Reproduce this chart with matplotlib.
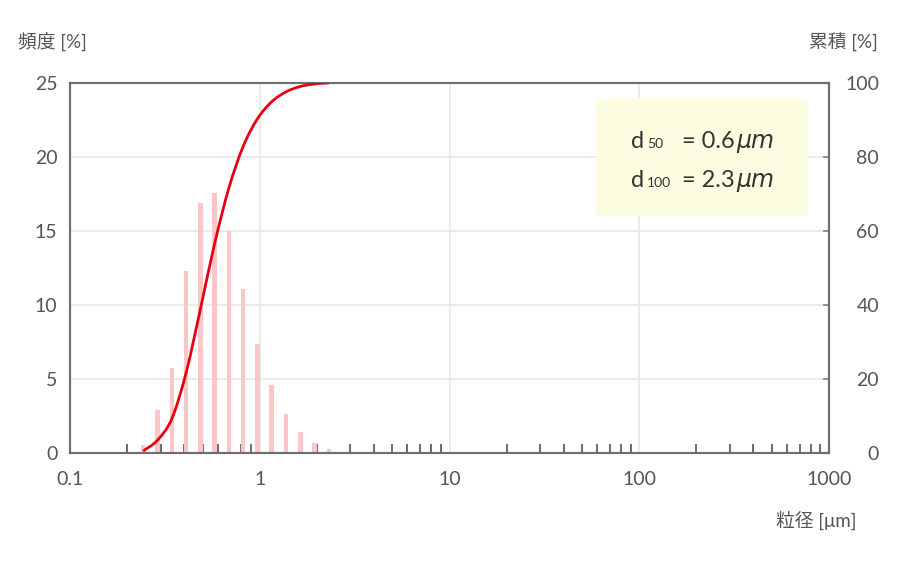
import numpy as np
import matplotlib
matplotlib.use("Agg")
from matplotlib import pyplot as plt
from matplotlib.path import Path
import matplotlib.patches as patches
from matplotlib.ticker import LogLocator, NullFormatter, FixedLocator, FixedFormatter

plt.rcParams['font.family'] = ['Lato', 'Noto Sans CJK JP', 'DejaVu Sans']

# particle size channels [um] and frequency [%]
sizes = [0.243, 0.289, 0.344, 0.409, 0.486, 0.578, 0.688,
         0.818, 0.972, 1.156, 1.375, 1.635, 1.944, 2.312]
freq = [0.52, 2.9, 5.74, 12.3, 16.9, 17.6, 15.0,
        11.1, 7.36, 4.57, 2.66, 1.44, 0.68, 0.25]

left_ticks = [0, 5, 10, 15, 20, 25]
right_ticks = [0, 20, 40, 60, 80, 100]
x_ticks = [0.1, 1, 10, 100, 1000]
x_ticklabels = ['0.1', '1', '10', '100', '1000']

d_lines = [('50', '= 0.6'), ('100', '= 2.3')]

W, H = 900, 562
TICK_C = '#555555'
SPINE_C = '#6e6e6e'
BAR_C = '#fbc6c6'
LINE_C = '#e60012'


def fx(px):
    return px / W


def fy(py):
    return 1 - py / H


fig = plt.figure(figsize=(9, 5.62), dpi=100)
ax = fig.add_axes([fx(70), fy(453), fx(829) - fx(70), fy(83) - fy(453)])
ax2 = ax.twinx()

ax.set_xscale('log')
ax2.set_xscale('log')
ax.set_xlim(0.1, 1000)
ax.set_ylim(0, 25)
ax2.set_ylim(0, 100)

# frequency bars, constant width in log space
x = np.array(sizes)
hw = 0.012
lefts = x * 10 ** (-hw)
widths = x * (10 ** hw - 10 ** (-hw))
ax.bar(lefts, freq, width=widths, align='edge', color=BAR_C, zorder=2)

ax.xaxis.set_major_locator(FixedLocator(x_ticks))
ax.xaxis.set_major_formatter(FixedFormatter(x_ticklabels))
ax.xaxis.set_minor_locator(LogLocator(base=10, subs=np.arange(2, 10)))
ax.xaxis.set_minor_formatter(NullFormatter())
ax.set_yticks(left_ticks)
ax.tick_params(axis='x', which='major', length=0, pad=13, labelsize=14, labelcolor=TICK_C)
ax.tick_params(axis='x', which='minor', direction='in', length=6.5, width=1.1, color='#444444')
ax.tick_params(axis='y', length=0, pad=9, labelsize=14, labelcolor=TICK_C)
ax.grid(True, which='major', color='#e6e6e6', lw=1.1, zorder=0)
ax.set_axisbelow(True)

# cumulative curve, smooth (monotone cubic segments drawn as bezier)
cum = np.cumsum(freq) / np.sum(freq) * 100
u = np.log10(x)
h = np.diff(u)
delta = np.diff(cum) / h
m = np.zeros_like(cum)
m[1:-1] = (delta[:-1] + delta[1:]) / 2
m[0], m[-1] = delta[0], 0.0
for i in range(len(delta)):
    if delta[i] == 0:
        m[i] = m[i + 1] = 0
        continue
    a, b = m[i] / delta[i], m[i + 1] / delta[i]
    s = a * a + b * b
    if s > 9:
        t = 3 / np.sqrt(s)
        m[i], m[i + 1] = t * a * delta[i], t * b * delta[i]

verts = [(x[0], cum[0])]
codes = [Path.MOVETO]
for i in range(len(h)):
    c1 = (10 ** (u[i] + h[i] / 3), cum[i] + m[i] * h[i] / 3)
    c2 = (10 ** (u[i + 1] - h[i] / 3), cum[i + 1] - m[i + 1] * h[i] / 3)
    verts += [c1, c2, (x[i + 1], cum[i + 1])]
    codes += [Path.CURVE4] * 3

ax2.add_patch(patches.PathPatch(Path(verts, codes), facecolor='none',
                                edgecolor=LINE_C, lw=2, zorder=5))
ax2.yaxis.set_major_locator(FixedLocator(right_ticks))
ax2.tick_params(axis='y', direction='in', length=4.5, width=1.1, color='#777777',
                pad=36, labelsize=14, labelcolor=TICK_C)
for lab in ax2.get_yticklabels():
    lab.set_horizontalalignment('right')

for a in (ax, ax2):
    for sp in a.spines.values():
        sp.set_color(SPINE_C)
        sp.set_linewidth(1.5)

# info box
box = patches.Rectangle((fx(596), fy(216)), fx(808) - fx(596), fy(99) - fy(216),
                        transform=fig.transFigure, facecolor='#fdfde2',
                        edgecolor='none', zorder=4)
ax2.add_patch(box)
for k, (sub, val) in enumerate(d_lines):
    base = 148 + 39 * k
    ax2.text(fx(631), fy(base), 'd', transform=fig.transFigure, fontsize=17,
             color='#333333', va='baseline', zorder=6)
    ax2.text(fx(647), fy(base), sub, transform=fig.transFigure, fontsize=10,
             color='#333333', va='baseline', zorder=6)
    ax2.text(fx(682), fy(base), val, transform=fig.transFigure, fontsize=17,
             color='#333333', va='baseline', zorder=6)
    ax2.text(fx(736), fy(base), 'μm', transform=fig.transFigure, fontsize=17,
             style='italic', family=['DejaVu Sans'], color='#333333',
             va='baseline', zorder=6)

# axis titles
fig.text(fx(18), fy(42), '頻度 [%]', fontsize=13.5, color=TICK_C, va='center', ha='left')
fig.text(fx(878), fy(42), '累積 [%]', fontsize=13.5, color=TICK_C, va='center', ha='right')
fig.text(fx(856), fy(520), '粒径 [μm]', fontsize=13.5, color=TICK_C, va='center', ha='right')

fig.savefig('out.png', dpi=100)
